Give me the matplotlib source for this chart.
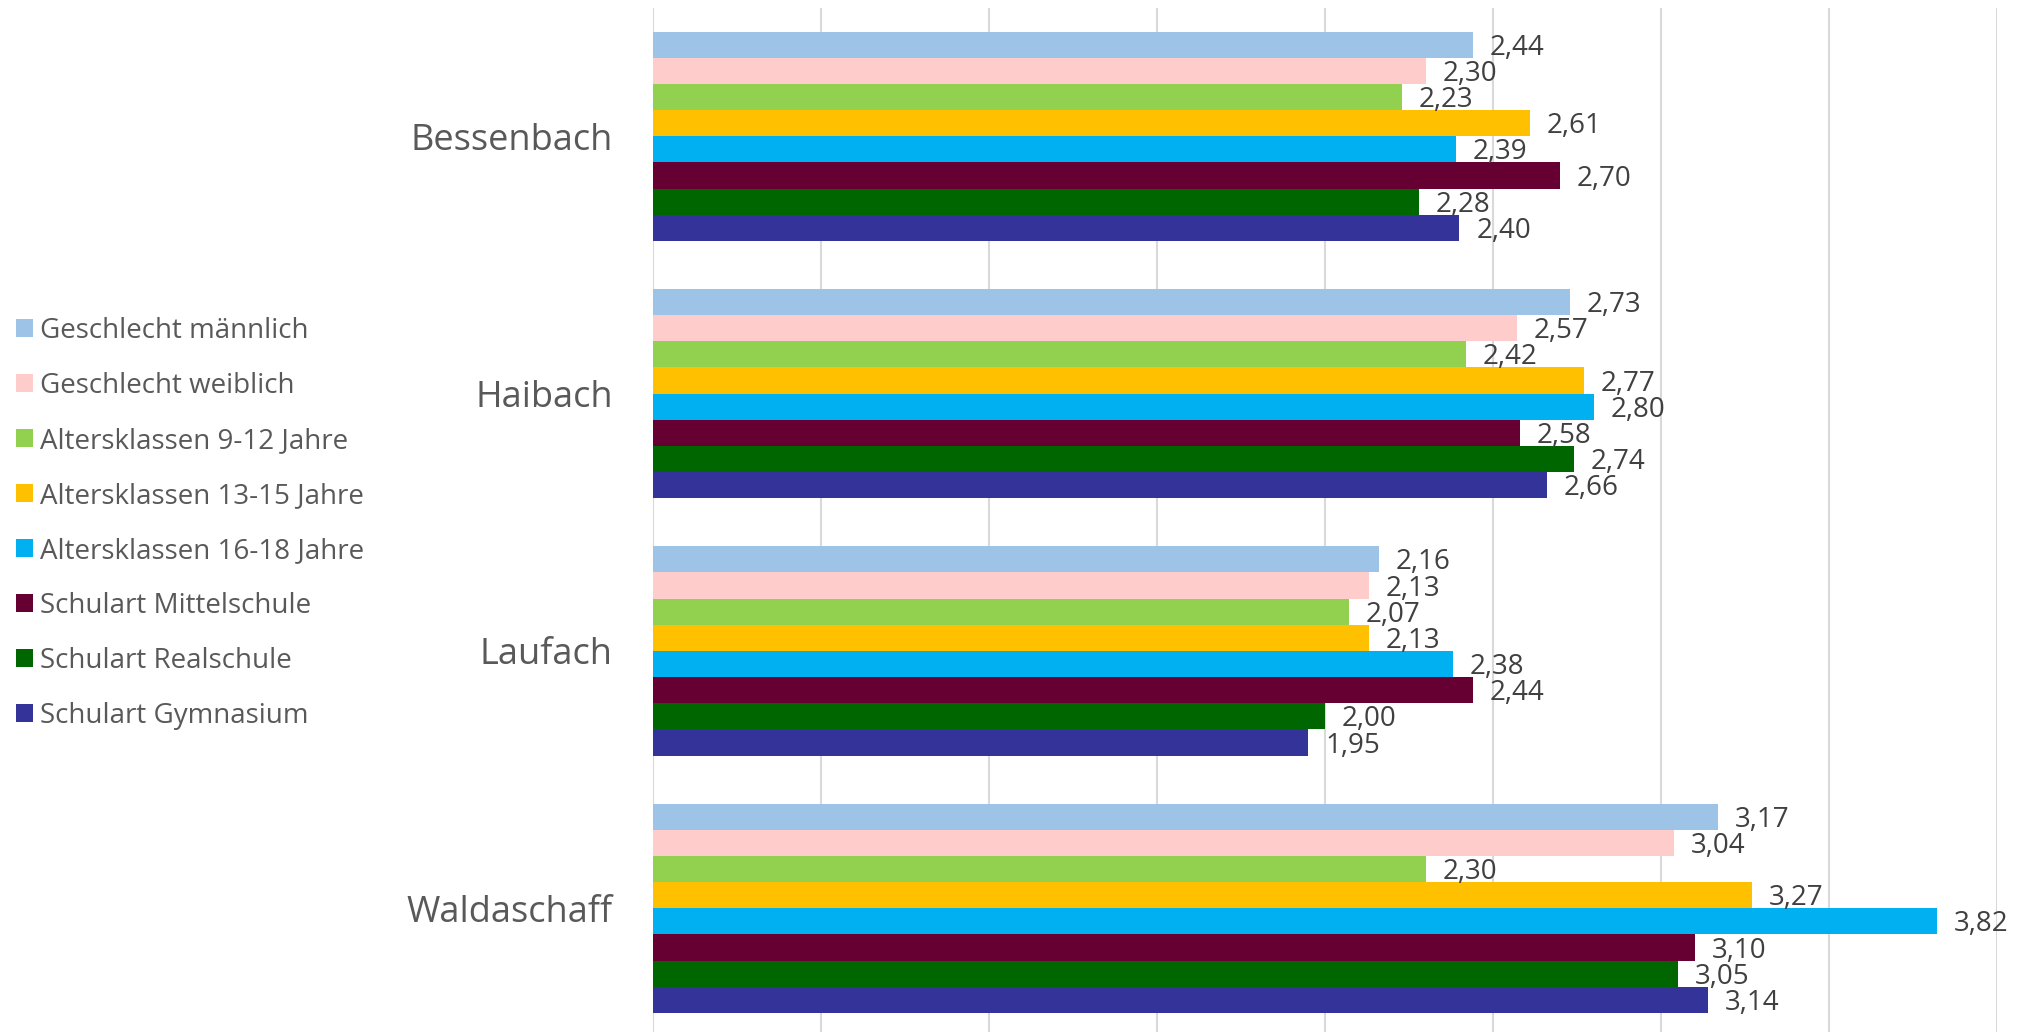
import matplotlib
matplotlib.use("Agg")
import matplotlib.pyplot as plt
import numpy as np

categories = ["Bessenbach", "Haibach", "Laufach", "Waldaschaff"]
series = ["Geschlecht männlich", "Geschlecht weiblich", "Altersklassen 9-12 Jahre",
          "Altersklassen 13-15 Jahre", "Altersklassen 16-18 Jahre",
          "Schulart Mittelschule", "Schulart Realschule", "Schulart Gymnasium"]
colors = ["#9DC3E6", "#FFCCCC", "#92D050", "#FFC000", "#00B0F0",
          "#660033", "#006600", "#333399"]
values = [
    [2.44, 2.73, 2.16, 3.17],
    [2.30, 2.57, 2.13, 3.04],
    [2.23, 2.42, 2.07, 2.30],
    [2.61, 2.77, 2.13, 3.27],
    [2.39, 2.80, 2.38, 3.82],
    [2.70, 2.58, 2.44, 3.10],
    [2.28, 2.74, 2.00, 3.05],
    [2.40, 2.66, 1.95, 3.14],
]

plt.rcParams['font.family'] = ['Open Sans', 'DejaVu Sans']

W, H = 2018, 1032
fig = plt.figure(figsize=(W / 100, H / 100), dpi=100)
left, right = 653 / W, 1997 / W
top_px, bot_px = 7.6, 1037
ax = fig.add_axes([left, (H - bot_px) / H, right - left, (bot_px - top_px) / H])

n = len(series)
h = 0.1017
y = np.arange(len(categories))
handles = []
for i, (name, col, vals) in enumerate(zip(series, colors, values)):
    pos = y + (i - (n - 1) / 2) * h
    b = ax.barh(pos, vals, height=h, color=col, label=name, zorder=3)
    handles.append(b)
    for p, v in zip(pos, vals):
        ax.text(v + 0.05, p + 0.012, f"{v:.2f}".replace(".", ","), va="center", ha="left",
                fontsize=20, color="#404040", zorder=4)

ax.set_xlim(0, 4.0)
ax.set_ylim(len(categories) - 0.5, -0.5)
ax.set_xticks(np.arange(0, 4.01, 0.5))
ax.xaxis.grid(True, color="#D9D9D9", linewidth=1.5, zorder=0)
ax.tick_params(axis="x", length=0, labelbottom=False)
ax.tick_params(axis="y", length=0, pad=29)
ax.set_yticks(y)
ax.set_yticklabels(categories, fontsize=26, color="#595959")
for s in ax.spines.values():
    s.set_visible(False)

leg = fig.legend(handles=handles, labels=series, loc="upper left",
                 bbox_to_anchor=(16 / W, 1 - 317 / H), frameon=False,
                 fontsize=20, labelcolor="#595959", handlelength=0.62, handleheight=0.62,
                 handletextpad=0.25, labelspacing=0.97, borderaxespad=0, borderpad=0)

fig.savefig("out.png", dpi=100)
